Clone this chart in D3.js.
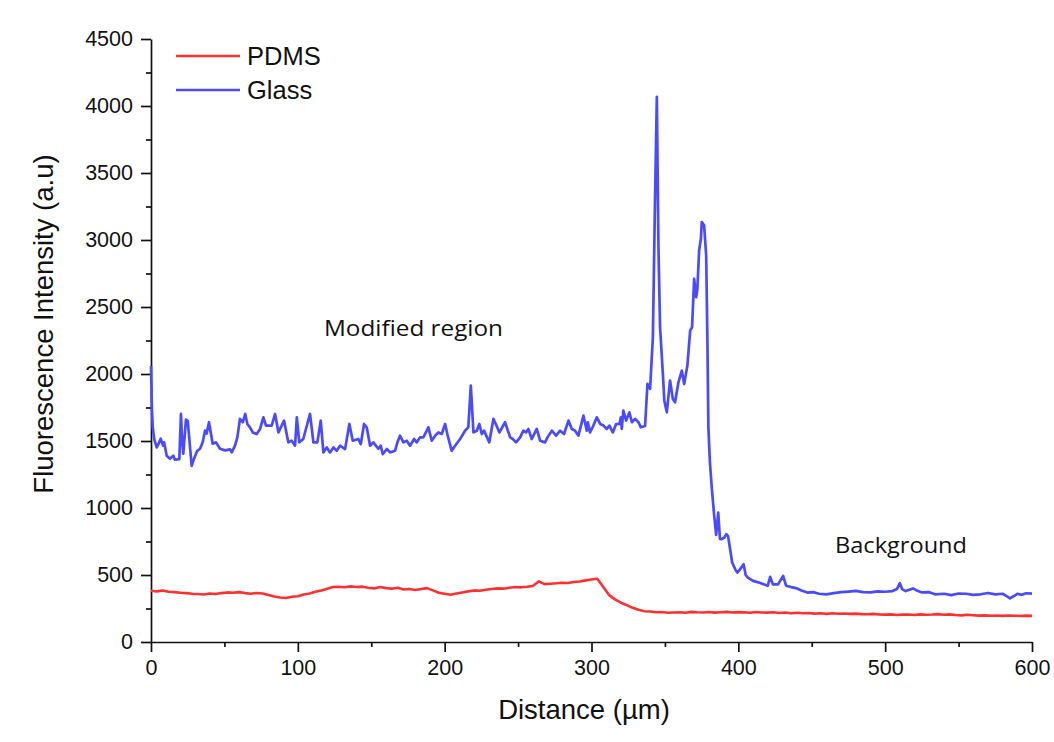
<!DOCTYPE html>
<html>
<head>
<meta charset="utf-8">
<script src="https://cdn.jsdelivr.net/npm/d3@7"></script>
<style>
  html, body { margin: 0; padding: 0; background: #ffffff; }
  svg { display: block; }
  .tick text { font-family: "Liberation Sans", Arial, sans-serif; font-size: 21.5px; fill: #111; }
  .domain, .tick line { stroke: #111; stroke-width: 1.7px; }
</style>
</head>
<body>
<svg id="chart" width="1054" height="742"></svg>
<script>
// PDMS profile, sampled every 4 µm from 0 to 600 µm
const pdmsStep = 4;
const pdmsIntensity = [
  382,378,385,375,372,368,365,360,358,355,362,358,365,370,367,372,365,360,366,362,
  350,340,332,328,338,342,355,362,375,385,398,410,412,408,415,410,413,405,400,410,
  402,398,405,392,395,388,395,402,385,368,360,352,362,370,378,385,383,390,396,400,
  398,405,410,408,412,418,452,432,435,438,442,440,448,452,460,466,472,410,350,318,
  293,275,255,240,230,228,222,224,218,220,222,218,225,222,220,224,219,222,225,220,
  223,221,218,224,220,219,222,217,220,215,218,214,216,212,215,210,214,211,213,210,
  212,208,207,210,205,204,206,201,204,205,202,206,203,205,208,203,206,201,199,203,
  200,197,199,196,198,195,198,196,194,197,195
];

// Glass profile: distance (µm) and intensity (a.u.)
const glassDistance = [
  0,0.6,1.2,2.3,3.9,5.2,6.6,8.2,8.9,10.7,12.9,15.2,16.3,19.3,20.4,21.2,22,23.8,25,27.7,
  29.3,31.5,33.4,35.2,36.8,37.9,39.5,40.7,42,44.3,47,50.4,53.8,55,57.2,58.8,60.6,62.5,64.2,65.6,
  67.4,69.3,72,74.3,76.5,78.3,82.2,84.5,86.8,90.6,93.5,95.8,98.1,99.3,101,103.7,108.3,110.6,113.3,115.6,
  117.4,119.7,121.9,124.2,126.5,128.7,132.2,135.1,137.4,141.2,142.9,145.1,146.9,149.2,151.4,154.8,156.5,157.8,160.6,162.8,
  166.2,167.8,169.6,171.9,174.2,176.4,179.2,181,183.2,185.5,188.9,191.2,193.5,195.7,198,200.3,201.8,204.8,207.1,210.5,
  213.9,216.1,217.8,219.6,221.9,223.6,225.3,226.8,230.4,233.2,234.8,237.3,241.1,244.6,246.4,248.6,251.4,253.6,255.4,257,
  259.3,262.7,265,268.4,270,273,275.9,278.6,281.3,284.3,286.6,288.8,291.1,294.5,296.8,297.5,299,301.3,303.6,305.9,
  308.2,310.4,312.2,314.5,316.8,319,320,320.6,321.7,323.6,325.8,327.5,329.7,332,333.6,336.5,338.1,339.9,341.8,343.1,
  344.5,345.6,346.7,348.6,349.6,351.3,353.5,355.4,356.9,359.2,361.5,363.1,365.3,367.2,368.5,369.9,371.3,372.1,373.3,374.5,
  375.1,376.7,378.1,379,379.6,380.6,381.9,383.5,384.9,386.3,387.5,388.6,390.5,391.8,393,394,395.8,398,399.3,401,
  403.6,405,406.5,410,415,420,421.7,423.5,427,430.5,432.5,436,440,443,447,451,455,460,465,470,
  475,480,485,490,495,500,505,508,510,511.5,514,519,522,525,530,534,540,545,550,555,
  560,565,570,575,580,583,585,588,590,593,596,600
];
const glassIntensity = [
  2060,1750,1600,1510,1452,1480,1517,1465,1490,1390,1368,1390,1360,1365,1702,1500,1405,1659,1650,1315,
  1368,1427,1442,1490,1577,1555,1640,1564,1480,1490,1442,1430,1438,1415,1465,1527,1665,1640,1702,1627,
  1602,1564,1552,1590,1677,1615,1615,1702,1564,1652,1490,1502,1465,1677,1490,1515,1702,1490,1490,1652,
  1415,1452,1415,1452,1427,1465,1440,1627,1502,1515,1477,1627,1602,1465,1490,1442,1465,1402,1440,1415,
  1427,1490,1540,1490,1502,1465,1515,1490,1527,1527,1602,1502,1540,1564,1552,1627,1552,1427,1465,1515,
  1577,1602,1913,1564,1577,1627,1552,1577,1490,1665,1627,1564,1640,1527,1515,1490,1527,1577,1564,1590,
  1515,1590,1502,1490,1527,1577,1540,1577,1552,1652,1590,1577,1540,1689,1577,1640,1564,1615,1677,1627,
  1615,1590,1615,1564,1627,1627,1677,1590,1727,1652,1714,1640,1665,1640,1602,1612,1926,1890,2274,3196,
  4068,2947,2349,2001,1801,1714,1951,1814,1789,1938,2025,1926,2063,2324,2349,2711,2573,2636,2922,3009,
  3134,3109,2885,2200,1600,1350,1153,950,800,966,770,767,780,805,790,720,593,540,518,540,
  580,500,480,456,440,419,486,430,430,493,420,410,400,385,369,372,360,356,365,372,
  376,381,372,370,378,375,380,395,439,395,380,400,382,370,372,356,360,350,362,360,
  352,356,366,355,360,340,326,345,360,352,364,361
];

const xTicks = [0, 100, 200, 300, 400, 500, 600];
const yTicks = [0, 500, 1000, 1500, 2000, 2500, 3000, 3500, 4000, 4500];
const seriesNames = ["PDMS", "Glass"];
const seriesColors = ["#ff3030", "#4a4aff"];

const svg = d3.select("#chart");
const margin = { left: 151, right: 22, top: 39, bottom: 100 };
const W = 1054, H = 742;

const x = d3.scaleLinear().domain([0, 600]).range([margin.left, W - margin.right]);
const y = d3.scaleLinear().domain([0, 4500]).range([H - margin.bottom, margin.top]);

// minor ticks
const xMinor = d3.range(50, 600, 100);
const yMinor = d3.range(250, 4500, 500);

svg.append("g")
  .attr("transform", `translate(0,${y(0)})`)
  .call(d3.axisBottom(x).tickValues(xMinor).tickSize(5).tickFormat(""))
  .call(g => g.select(".domain").remove());
svg.append("g")
  .attr("transform", `translate(${x(0)},0)`)
  .call(d3.axisLeft(y).tickValues(yMinor).tickSize(5).tickFormat(""))
  .call(g => g.select(".domain").remove());

svg.append("g")
  .attr("transform", `translate(0,${y(0)})`)
  .call(d3.axisBottom(x).tickValues(xTicks).tickSize(10).tickSizeOuter(0).tickPadding(8).tickFormat(d3.format("d")));
svg.append("g")
  .attr("transform", `translate(${x(0)},0)`)
  .call(d3.axisLeft(y).tickValues(yTicks).tickSize(10).tickSizeOuter(0).tickPadding(8).tickFormat(d3.format("d")));

// series
const pdmsData = pdmsIntensity.map((v, i) => [i * pdmsStep, v]);
const glassData = glassDistance.map((d, i) => [d, glassIntensity[i]]);

const line = d3.line().x(d => x(d[0])).y(d => y(d[1]));

svg.append("path").datum(pdmsData)
  .attr("d", line).attr("fill", "none")
  .attr("stroke", seriesColors[0]).attr("stroke-width", 2.6).attr("stroke-linejoin", "round");
svg.append("path").datum(glassData)
  .attr("d", line).attr("fill", "none")
  .attr("stroke", seriesColors[1]).attr("stroke-width", 2.7).attr("stroke-linejoin", "round");

// axis titles
svg.append("text")
  .attr("x", 584).attr("y", 719)
  .attr("text-anchor", "middle")
  .style("font-family", "'Liberation Sans', Arial, sans-serif")
  .style("font-size", "27.5px").style("fill", "#111")
  .text("Distance (µm)");
svg.append("text")
  .attr("transform", `translate(53,324) rotate(-90)`)
  .attr("text-anchor", "middle")
  .style("font-family", "'Liberation Sans', Arial, sans-serif")
  .style("font-size", "27.5px").style("fill", "#111")
  .text("Fluorescence Intensity (a.u)");

// legend
const legend = svg.append("g");
seriesNames.forEach((name, i) => {
  const ly = 56 + i * 34;
  legend.append("line")
    .attr("x1", 176).attr("x2", 240).attr("y1", ly).attr("y2", ly)
    .attr("stroke", seriesColors[i]).attr("stroke-width", 2.5);
  legend.append("text")
    .attr("x", 247).attr("y", ly + 9)
    .style("font-family", "'Liberation Sans', Arial, sans-serif")
    .style("font-size", "25.5px").style("fill", "#111")
    .text(name);
});

// region annotations
svg.append("text")
  .attr("x", 324).attr("y", 336)
  .attr("textLength", 179).attr("lengthAdjust", "spacingAndGlyphs")
  .style("font-family", "'Open Sans', sans-serif")
  .style("font-size", "22px").style("fill", "#111")
  .text("Modified region");
svg.append("text")
  .attr("x", 835).attr("y", 553)
  .attr("textLength", 132).attr("lengthAdjust", "spacingAndGlyphs")
  .style("font-family", "'Open Sans', sans-serif")
  .style("font-size", "22px").style("fill", "#111")
  .text("Background");
</script>
</body>
</html>
